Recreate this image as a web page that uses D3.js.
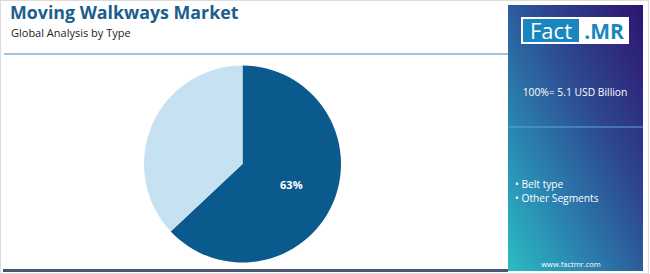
<!DOCTYPE html>
<html>
<head>
<meta charset="utf-8">
<style>
  body { margin: 0; background: #fff; }
  svg { display: block; font-family: "Open Sans", Inter, sans-serif; }
</style>
<script src="https://d3js.org/d3.v7.min.js"></script>
</head>
<body>
<svg id="chart" width="650" height="274"></svg>
<script>
// chart data
const segments = ['Belt type', 'Other Segments'];
const shares = [63, 37];
const sliceColors = ['#0b5a8e', '#c6e1f1'];
const totalLabel = '100%= 5.1 USD Billion';

const svg = d3.select('#chart');

// outer frame
svg.append('rect')
  .attr('x', 0.5).attr('y', 0.5)
  .attr('width', 648).attr('height', 273)
  .attr('fill', 'none')
  .attr('stroke', '#dcdcdc');

// title block
svg.append('text')
  .attr('x', 10).attr('y', 19)
  .attr('font-size', 17.8).attr('font-weight', 700)
  .attr('fill', '#1b5e8e')
  .text('Moving Walkways Market');
svg.append('text')
  .attr('x', 11).attr('y', 36.5)
  .attr('font-size', 11)
  .attr('fill', '#222')
  .text('Global Analysis by Type');

svg.append('line')
  .attr('x1', 4).attr('x2', 508)
  .attr('y1', 54).attr('y2', 54)
  .attr('stroke', '#4b88b9').attr('stroke-width', 1.2);

svg.append('rect')
  .attr('x', 3).attr('y', 269)
  .attr('width', 505).attr('height', 3)
  .attr('fill', '#4b5570');

// pie
const cx = 242.5, cy = 164, r = 98.5;
const pie = d3.pie().sort(null).value(d => d);
const arcs = pie(shares);
const arc = d3.arc().innerRadius(0).outerRadius(r);
const labelArc = d3.arc().innerRadius(r * 0.54).outerRadius(r * 0.54);

const g = svg.append('g').attr('transform', `translate(${cx},${cy})`);
g.selectAll('path')
  .data(arcs)
  .enter()
  .append('path')
  .attr('d', arc)
  .attr('fill', (d, i) => sliceColors[i]);

g.selectAll('text')
  .data(arcs.filter((d, i) => i === 0))
  .enter()
  .append('text')
  .attr('transform', d => `translate(${labelArc.centroid(d)})`)
  .attr('text-anchor', 'middle')
  .attr('dy', '0.35em')
  .attr('font-size', 11).attr('font-weight', 700)
  .attr('fill', '#fff')
  .text(d => d.data + '%');

// side panel
const defs = svg.append('defs');
const grad = defs.append('linearGradient')
  .attr('id', 'panelGrad')
  .attr('x1', '100%').attr('y1', '0%')
  .attr('x2', '0%').attr('y2', '100%');
grad.append('stop').attr('offset', '0%').attr('stop-color', '#2e1470');
grad.append('stop').attr('offset', '38%').attr('stop-color', '#2d4790');
grad.append('stop').attr('offset', '72%').attr('stop-color', '#2a86b2');
grad.append('stop').attr('offset', '100%').attr('stop-color', '#2bbdc1');

const px = 508, pw = 135;
svg.append('rect')
  .attr('x', px).attr('y', 5)
  .attr('width', pw).attr('height', 266)
  .attr('fill', 'url(#panelGrad)');

// logo
svg.append('rect')
  .attr('x', 521).attr('y', 17)
  .attr('width', 108).attr('height', 27)
  .attr('fill', '#fff');
svg.append('rect')
  .attr('x', 523).attr('y', 19)
  .attr('width', 56).attr('height', 23)
  .attr('fill', '#1a86c0');
svg.append('text')
  .attr('x', 551).attr('y', 38.5)
  .attr('text-anchor', 'middle')
  .attr('font-size', 22)
  .attr('fill', '#fff')
  .text('Fact');
svg.append('text')
  .attr('x', 604).attr('y', 38.5)
  .attr('text-anchor', 'middle')
  .attr('font-size', 21).attr('font-weight', 700)
  .attr('fill', '#1a86c0')
  .text('.MR');

svg.append('text')
  .attr('x', 575).attr('y', 96)
  .attr('text-anchor', 'middle')
  .attr('font-size', 10.3)
  .attr('fill', '#fff')
  .text(totalLabel);

svg.append('line')
  .attr('x1', px).attr('x2', px + pw)
  .attr('y1', 127).attr('y2', 127)
  .attr('stroke', '#5fa6d6').attr('stroke-width', 1);

svg.selectAll('text.legend')
  .data(segments)
  .enter()
  .append('text')
  .attr('class', 'legend')
  .attr('x', 515)
  .attr('y', (d, i) => 188 + i * 13.5)
  .attr('font-size', 10.2)
  .attr('fill', '#fff')
  .text(d => '\u2022 ' + d);

svg.append('text')
  .attr('x', 571).attr('y', 267)
  .attr('text-anchor', 'middle')
  .attr('font-size', 7.5)
  .attr('fill', '#fff')
  .text('www.factmr.com');
</script>
</body>
</html>
